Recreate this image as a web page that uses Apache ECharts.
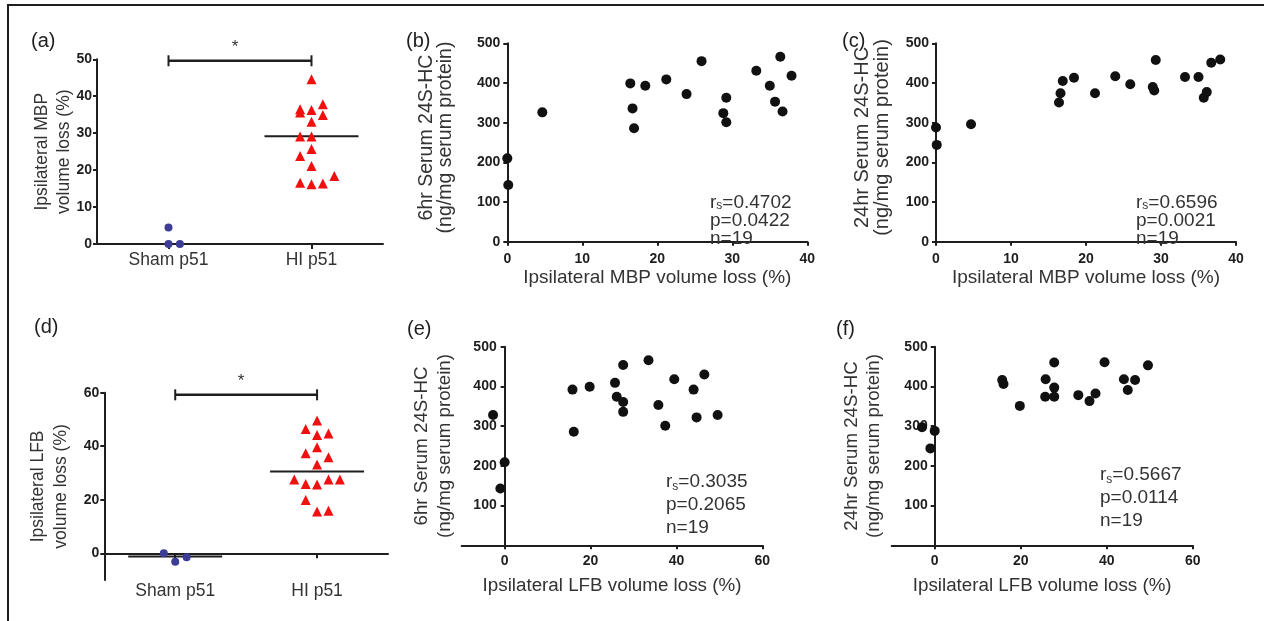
<!DOCTYPE html>
<html>
<head>
<meta charset="utf-8">
<script src="https://cdn.jsdelivr.net/npm/echarts@6/dist/echarts.min.js"></script>
<style>
  html, body { margin: 0; padding: 0; background: #ffffff; }
  #chart { width: 1264px; height: 621px; }
</style>
</head>
<body>
<div id="chart"></div>
<script>
// ---------- data ----------
const groups = ['Sham p51', 'HI p51'];

// (a) ipsilateral MBP volume loss (%), one value per animal; slot = column in the dot plot
const mbpSham = [0, 0, 4.5];
const mbpShamSlot = [0, 1, 0];
const mbpHI = [44.6, 36.5, 35.6, 36.3, 37.8, 34.9, 33.1, 29.1, 29.1, 25.7, 23.8, 21.1, 16.6, 16.2, 16.4, 18.4];
const mbpHISlot = [0, -1, -1, 0, 1, 1, 0, -1, 0, 0, -1, 0, -1, 0, 1, 2];
const mbpMedians = [0, 29.2];
const mbpSigLevel = 49.6;

// (d) ipsilateral LFB volume loss (%)
const lfbSham = [0, -3.1, -1.5];
const lfbShamSlot = [-1, 0, 1];
const lfbHI = [49.6, 46.4, 44.2, 44.8, 39.6, 37.4, 35.9, 33.2, 27.6, 25.9, 25.7, 27.6, 27.6, 19.9, 15.6, 15.9];
const lfbHISlot = [0, -1, 0, 1, 0, -1, 1, 0, -2, -1, 0, 1, 2, -1, 0, 1];
const lfbMedians = [-1.2, 30.6];
const lfbSigLevel = 59.2;

// (b) MBP loss vs 6hr serum 24S-HC
const bMBP = [0, 0.13, 4.67, 16.4, 16.7, 16.9, 18.4, 21.2, 23.9, 25.9, 28.8, 29.2, 29.2, 33.2, 35.0, 35.7, 36.4, 36.7, 37.9];
const b6hr = [210, 143, 326, 399, 336, 286, 393, 409, 372, 455, 324, 363, 301, 431, 393, 353, 466, 328, 418];

// (c) MBP loss vs 24hr serum 24S-HC
const cMBP = [0, 0.1, 4.67, 16.4, 16.6, 16.9, 18.4, 21.2, 23.9, 25.9, 28.9, 29.1, 29.3, 33.2, 35.0, 35.7, 36.1, 36.7, 37.9];
const c24hr = [288, 244, 296, 351, 374, 405, 413, 374, 417, 397, 390, 381, 458, 415, 415, 363, 377, 451, 459];

// (e) LFB loss vs 6hr serum 24S-HC
const eLFB = [-2.7, 0, -1.0, 15.8, 16.1, 19.8, 25.7, 26.1, 27.6, 27.6, 27.6, 33.5, 35.8, 37.4, 39.5, 44.0, 44.7, 46.5, 49.6];
const e6hr = [328, 209, 143, 392, 286, 399, 409, 374, 454, 361, 336, 466, 353, 301, 418, 392, 322, 430, 328];

// (f) LFB loss vs 24hr serum 24S-HC
const fLFB = [-2.95, -1.0, 0.0, 15.7, 16.0, 19.8, 25.8, 25.7, 27.8, 27.8, 27.8, 33.4, 36.0, 37.4, 39.5, 44.0, 44.9, 46.6, 49.6];
const f24hr = [297, 244, 288, 416, 406, 351, 418, 374, 460, 397, 374, 378, 363, 382, 461, 418, 391, 416, 453];

// Spearman statistics printed in each correlation panel
const stats = {
  b: { r: '0.4702', p: '0.0422', n: 19 },
  c: { r: '0.6596', p: '0.0021', n: 19 },
  e: { r: '0.3035', p: '0.2065', n: 19 },
  f: { r: '0.5667', p: '0.0114', n: 19 }
};

// ---------- styling helpers ----------
const FONT = 'Liberation Sans, Arial, Helvetica, sans-serif';
const INK = '#1e1e1e';
const TEXT = '#333333';
const axisLine = { show: true, onZero: true, lineStyle: { color: INK, width: 2 } };
const tickStyle = { show: true, length: 4, lineStyle: { color: INK, width: 2 } };
const tickLabel = { color: INK, fontFamily: FONT, fontWeight: 'bold', fontSize: 14 };
const nameStyle = (fs, lh, pad) => ({ color: TEXT, fontFamily: FONT, fontSize: fs, lineHeight: lh, padding: pad || 0 });
const SLOT_PX = 11.4;

const grids = [
  { left: 97, top: 59.3, width: 286, height: 184.7 },      // a
  { left: 507.3, top: 43.3, width: 300, height: 198.4 },   // b
  { left: 936, top: 43.3, width: 300, height: 198.4 },     // c
  { left: 104.3, top: 392.7, width: 283.7, height: 187.4 },// d
  { left: 461.7, top: 346.7, width: 300.6, height: 198.6 },// e
  { left: 891.7, top: 346.7, width: 301, height: 198.6 }   // f
];

function catAxis(gridIndex, labelMargin) {
  return {
    type: 'category', gridIndex, data: groups, boundaryGap: true,
    axisLine, axisTick: { show: true, alignWithLabel: true, length: 5, lineStyle: { color: INK, width: 2 } },
    axisLabel: { color: TEXT, fontFamily: FONT, fontSize: 17.5, margin: labelMargin },
    splitLine: { show: false }
  };
}

function valAxis(gridIndex, opt) {
  const ax = {
    type: 'value', gridIndex, min: opt.min, max: opt.max,
    axisLine, axisTick: Object.assign({}, tickStyle),
    axisLabel: Object.assign({ margin: opt.margin }, tickLabel),
    splitLine: { show: false }
  };
  if (opt.interval) ax.interval = opt.interval;
  if (opt.ticks) {
    ax.axisTick.customValues = opt.ticks;
    ax.axisLabel.customValues = opt.ticks;
  }
  if (opt.name) {
    ax.name = opt.name;
    ax.nameLocation = 'middle';
    ax.nameGap = opt.nameGap;
    ax.nameMoveOverlap = false;
    ax.nameTextStyle = nameStyle(opt.fontSize || 19, opt.lineHeight || 20, opt.pad);
  }
  return ax;
}

const xAxes = [
  catAxis(0, 7),
  valAxis(1, { min: 0, max: 40, interval: 10, margin: 10, name: 'Ipsilateral MBP volume loss (%)', nameGap: 26 }),
  valAxis(2, { min: 0, max: 40, interval: 10, margin: 10, name: 'Ipsilateral MBP volume loss (%)', nameGap: 26 }),
  catAxis(3, 2),
  valAxis(4, { min: -10, max: 60, ticks: [0, 20, 40, 60], margin: 9, name: 'Ipsilateral LFB volume loss (%)', nameGap: 31, fontSize: 18.8 }),
  valAxis(5, { min: -10, max: 60, ticks: [0, 20, 40, 60], margin: 9, name: 'Ipsilateral LFB volume loss (%)', nameGap: 31, fontSize: 18.8 })
];

// the serum axes in (e)/(f) sit at x = 0, so their labels are pulled in toward that line
const yAxes = [
  valAxis(0, { min: 0, max: 50, interval: 10, margin: 5, name: 'Ipsilateral MBP\nvolume loss (%)', nameGap: 22, fontSize: 17.5, lineHeight: 22 }),
  valAxis(1, { min: 0, max: 500, interval: 100, margin: 7, name: '6hr Serum 24S-HC\n(ng/mg serum protein)', nameGap: 52, fontSize: 19.5, lineHeight: 19, pad: [0, 0, 0, 10] }),
  valAxis(2, { min: 0, max: 500, interval: 100, margin: 7, name: '24hr Serum 24S-HC\n(ng/mg serum protein)', nameGap: 44, fontSize: 20, lineHeight: 20, pad: [0, 0, 0, 10] }),
  valAxis(3, { min: -10, max: 60, ticks: [0, 20, 40, 60], margin: 5, name: 'Ipsilateral LFB\nvolume loss (%)', nameGap: 32, fontSize: 17.5, lineHeight: 23 }),
  valAxis(4, { min: 0, max: 500, ticks: [100, 200, 300, 400, 500], margin: -35, name: '6hr Serum 24S-HC\n(ng/mg serum protein)', nameGap: 5, fontSize: 18.7, lineHeight: 23 }),
  valAxis(5, { min: 0, max: 500, ticks: [100, 200, 300, 400, 500], margin: -36, name: '24hr Serum 24S-HC\n(ng/mg serum protein)', nameGap: 7, fontSize: 18.7, lineHeight: 22 })
];

// ---------- series builders ----------
function dotColumn(idx, catIndex, values, slots, symbol, color, size) {
  return {
    type: 'scatter', xAxisIndex: idx, yAxisIndex: idx, symbol, symbolSize: size,
    itemStyle: { color, opacity: 1 }, silent: true, z: 4,
    data: values.map((v, i) => ({ value: [catIndex, v], symbolOffset: [slots[i] * SLOT_PX, 0] }))
  };
}

function medianBars(idx, medians) {
  return {
    type: 'scatter', xAxisIndex: idx, yAxisIndex: idx, symbol: 'rect', symbolSize: [94, 2],
    itemStyle: { color: INK, opacity: 1 }, silent: true, z: 3,
    data: medians.map((m, i) => [i, m])
  };
}

function sigBracket(idx, level) {
  return {
    type: 'line', xAxisIndex: idx, yAxisIndex: idx, silent: true, z: 5,
    symbol: 'rect', symbolSize: [2, 11], showSymbol: true,
    itemStyle: { color: INK, opacity: 1 }, lineStyle: { color: INK, width: 2.5 },
    data: [[0, level], [1, level]],
    markLine: {
      silent: true, symbol: 'none',
      lineStyle: { color: 'rgba(0,0,0,0)', width: 0 },
      label: { show: true, position: 'middle', formatter: '*', color: TEXT, fontFamily: FONT, fontSize: 17, distance: 5, opacity: 1, offset: [-5, 0] },
      emphasis: { disabled: true },
      data: [[{ coord: [0, level] }, { coord: [1, level] }]]
    }
  };
}

function scatterPanel(idx, xs, ys) {
  return {
    type: 'scatter', xAxisIndex: idx, yAxisIndex: idx, symbol: 'circle', symbolSize: 10,
    itemStyle: { color: '#111111', opacity: 1 }, silent: true,
    data: xs.map((x, i) => [x, ys[i]])
  };
}

const series = [
  medianBars(0, mbpMedians),
  dotColumn(0, 0, mbpSham, mbpShamSlot, 'circle', '#3d3d96', 8),
  dotColumn(0, 1, mbpHI, mbpHISlot, 'triangle', '#f01010', 10),
  sigBracket(0, mbpSigLevel),
  scatterPanel(1, bMBP, b6hr),
  scatterPanel(2, cMBP, c24hr),
  medianBars(3, lfbMedians),
  dotColumn(3, 0, lfbSham, lfbShamSlot, 'circle', '#3d3d96', 8),
  dotColumn(3, 1, lfbHI, lfbHISlot, 'triangle', '#f01010', 10),
  sigBracket(3, lfbSigLevel),
  scatterPanel(4, eLFB, e6hr),
  scatterPanel(5, fLFB, f24hr)
];

// ---------- panel letters and statistics ----------
const letterStyle = { color: INK, fontFamily: FONT, fontSize: 20, fontWeight: 'normal' };
const letters = [
  ['(a)', 31, 31], ['(b)', 406, 31], ['(c)', 842, 31],
  ['(d)', 34, 317], ['(e)', 407, 319], ['(f)', 836, 319]
].map(([t, x, y]) => ({ text: t, left: x, top: y, padding: 0, textStyle: letterStyle }));

function statTitle(s, x, y, lh) {
  const base = { color: TEXT, fontFamily: FONT, fontSize: 19, fontWeight: 'normal', lineHeight: lh };
  return {
    left: x, top: y, padding: 0,
    text: `{t|r}{s|s}{t|=${s.r}}\n{t|p=${s.p}}\n{t|n=${s.n}}`,
    textStyle: {
      fontWeight: 'normal',
      rich: {
        t: base,
        s: Object.assign({}, base, { fontSize: 12, verticalAlign: 'bottom', padding: [9, 0, 0, 0] })
      }
    }
  };
}

const statTitles = [
  statTitle(stats.b, 710, 194, 18),
  statTitle(stats.c, 1136, 194, 18),
  statTitle(stats.e, 666, 470, 23),
  statTitle(stats.f, 1100, 463, 23)
];

const chart = echarts.init(document.getElementById('chart'), null, { renderer: 'canvas' });
chart.setOption({
  backgroundColor: '#ffffff',
  animation: false,
  grid: grids,
  xAxis: xAxes,
  yAxis: yAxes,
  title: letters.concat(statTitles),
  series,
  graphic: [
    // figure frame (top and left rules)
    { type: 'line', shape: { x1: 7, y1: 5, x2: 1264, y2: 5 }, style: { stroke: INK, lineWidth: 2 }, silent: true },
    { type: 'line', shape: { x1: 8, y1: 5, x2: 8, y2: 621 }, style: { stroke: INK, lineWidth: 2 }, silent: true }
  ]
});
</script>
</body>
</html>
